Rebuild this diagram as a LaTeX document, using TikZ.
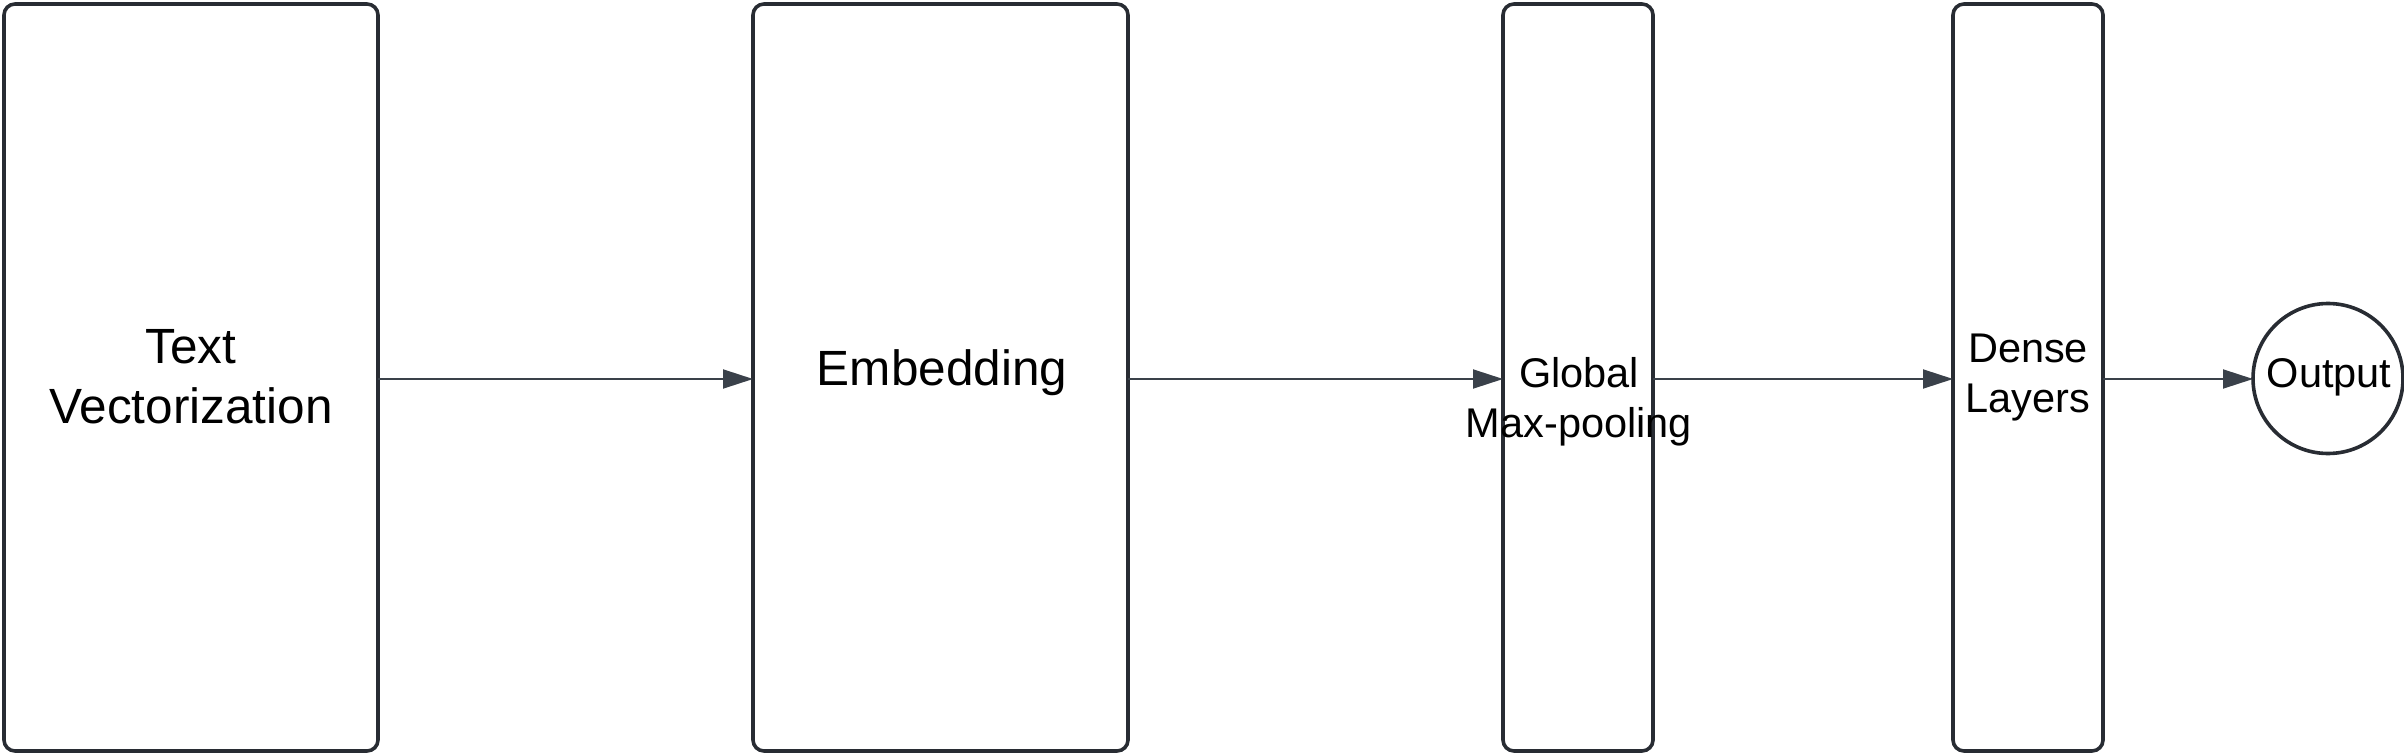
\documentclass[tikz,border=0pt]{standalone}
\usepackage{fontspec}
\setmainfont{Liberation Sans}
\usetikzlibrary{arrows.meta}
\definecolor{boxline}{RGB}{40,44,51}
\definecolor{arrowline}{RGB}{58,65,74}
\tikzset{
  layerbox/.style={draw=boxline, line width=3.6pt, rounded corners=11pt, inner sep=0pt, outer sep=0pt, fill=white},
  outcircle/.style={draw=boxline, line width=3.6pt, circle, inner sep=0pt, outer sep=0pt, minimum size=150pt},
  bigtext/.style={align=center, anchor=base, inner sep=0pt, font=\fontsize{49.5}{60}\selectfont},
  smalltext/.style={align=center, anchor=base, inner sep=0pt, font=\fontsize{41.5}{50}\selectfont},
  conn/.style={draw=arrowline, line width=1.9pt, -{Triangle[length=30pt,width=19pt]}}
}
\begin{document}
\begin{tikzpicture}[x=1pt,y=-1pt]
\useasboundingbox (0,0) rectangle (2404,754);
\node[layerbox, minimum width=374pt, minimum height=747pt] (b1) at (191,377.5) {};
\node[layerbox, minimum width=375pt, minimum height=747pt] (b2) at (940.5,377.5) {};
\node[layerbox, minimum width=150pt, minimum height=747pt] (b3) at (1578,377.5) {};
\node[layerbox, minimum width=150pt, minimum height=747pt] (b4) at (2028,377.5) {};
\node[outcircle] (b5) at (2328,378.5) {};
\node[bigtext] (t1) at (191,423) {Text\\Vectorization};
\node[bigtext] (t2) at (942,385) {Embedding};
\node[smalltext] (t3) at (1579,437) {Global\\Max-pooling};
\node[smalltext] (t4) at (2028,412) {Dense\\Layers};
\node[smalltext] (t5) at (2329,387) {Output};
\draw[conn] (b1.east |- 0,379) -- (b2.west |- 0,379);
\draw[conn] (b2.east |- 0,379) -- (b3.west |- 0,379);
\draw[conn] (b3.east |- 0,379) -- (b4.west |- 0,379);
\draw[conn] (b4.east |- 0,379) -- (b5.west |- 0,379);
\end{tikzpicture}
\end{document}
